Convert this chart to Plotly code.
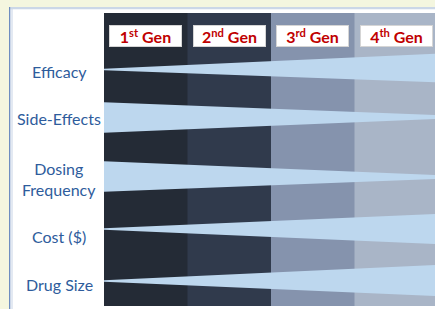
import plotly.graph_objects as go

# ---- data ----
generations = ["1<sup>st</sup> Gen", "2<sup>nd</sup> Gen", "3<sup>rd</sup> Gen", "4<sup>th</sup> Gen"]
criteria = ["Efficacy", "Side-Effects", "Dosing<br>Frequency", "Cost ($)", "Drug Size"]
# relative wedge thickness at the 1st-gen (left) end and at the 4th-gen (right) end
width_start = [1.5, 30.5, 30.5, 1.5, 1.5]
width_end = [28.5, 4.0, 4.0, 30.0, 31.0]

# ---- layout config ----
W, H = 435, 309
L, T, B = 104, 13, 3
COL_PX = 83.5
X_END = (W - L) / COL_PX
PLOT_H = H - T - B
row_center_start = [56.5, 104.5, 163.5, 216.0, 268.0]
row_center_end = [55.0, 104.0, 164.0, 216.0, 267.5]
label_y = [58.0, 105.5, 165.5, 223.5, 271.0]
col_colors = ["#242B36", "#303A4C", "#8593AD", "#A9B5C7"]
wedge_color = "#BDD7EE"
label_color = "#2E5C9C"
head_color = "#C00000"
FONT = "Lato"


def px_x(p):
    return (p - L) / (W - L)


def px_y(p):
    return (H - B - p) / PLOT_H


fig = go.Figure()

for i, name in enumerate(criteria):
    c0, c1 = row_center_start[i], row_center_end[i]
    w0, w1 = width_start[i], width_end[i]
    xs = [0, X_END, X_END, 0, 0]
    ys = [c0 - w0 / 2, c1 - w1 / 2, c1 + w1 / 2, c0 + w0 / 2, c0 - w0 / 2]
    fig.add_trace(go.Scatter(x=xs, y=ys, mode="lines", fill="toself",
                             fillcolor=wedge_color, line=dict(width=0),
                             hoverinfo="skip", showlegend=False))

shapes = []
for i, c in enumerate(col_colors):
    shapes.append(dict(type="rect", xref="x", yref="paper", x0=i, x1=i + 1.03,
                       y0=0, y1=1, fillcolor=c, line=dict(width=0), layer="below"))

# outer frame
def prect(x0, y0, x1, y1, color):
    return dict(type="rect", xref="paper", yref="paper",
                x0=px_x(x0), x1=px_x(x1), y0=px_y(y1), y1=px_y(y0),
                fillcolor=color, line=dict(width=0), layer="below")

shapes += [
    prect(0, 0, 9, H, "#F4F6DF"),
    prect(0, 0, W, 7, "#F4F6DF"),
    prect(10, 9, 13, H, "#E3E9F2"),
    prect(9, 7, W, 9.3, "#CBD7E7"),
    prect(9, 7, 10.2, H, "#6E8DC0"),
]

annotations = []
for i, g in enumerate(generations):
    annotations.append(dict(x=i + 0.5, y=22.8, xref="x", yref="y", text="<b>" + g + "</b>",
                            showarrow=False, bgcolor="white", bordercolor="#D5D5D5",
                            borderwidth=1, borderpad=0, width=71, height=20,
                            font=dict(family=FONT, size=16, color=head_color),
                            xanchor="center", yanchor="middle"))

for i, name in enumerate(criteria):
    annotations.append(dict(x=px_x(59), y=label_y[i], xref="paper", yref="y", text=name,
                            showarrow=False, xanchor="center", yanchor="middle",
                            font=dict(family=FONT, size=16, color=label_color)))

fig.update_layout(
    width=W, height=H,
    margin=dict(l=L, r=0, t=T, b=B, pad=0),
    paper_bgcolor="white", plot_bgcolor="white",
    xaxis=dict(range=[0, X_END], visible=False, fixedrange=True),
    yaxis=dict(range=[PLOT_H, 0], visible=False, fixedrange=True),
    shapes=shapes, annotations=annotations, showlegend=False,
)

fig.write_html("out.html", config={"displayModeBar": False},
               post_script="document.body.style.margin='0';document.body.style.overflow='hidden';")
